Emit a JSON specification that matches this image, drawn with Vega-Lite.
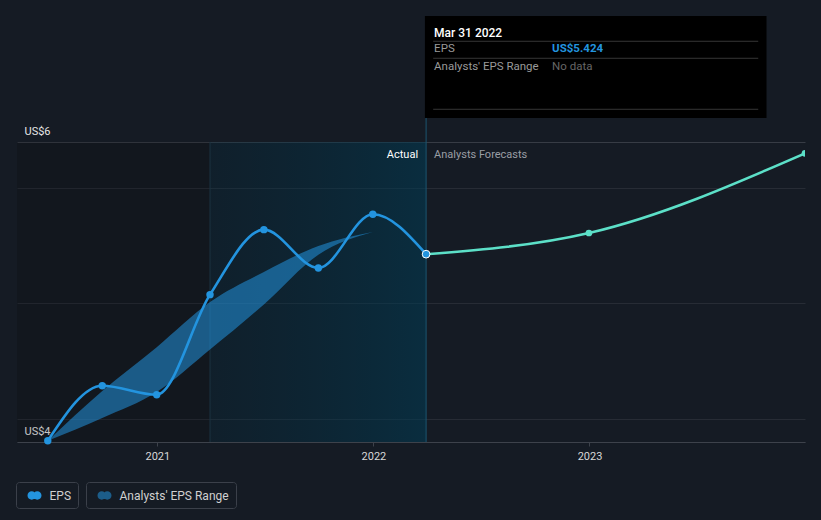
{
  "$schema": "https://vega.github.io/schema/vega-lite/v6.json",
  "width": 788,
  "height": 300,
  "autosize": {"type": "none"},
  "padding": {"left": 17, "top": 142, "right": 16, "bottom": 78},
  "background": "#151b24",
  "config": {"view": {"stroke": null}, "font": "Roboto", "text": {"font": "Roboto"}},
  "datasets": {
    "eps": [
      {"date": "2020-06-30", "eps": 3.811},
      {"date": "2020-09-30", "eps": 4.287},
      {"date": "2020-12-31", "eps": 4.209},
      {"date": "2021-03-31", "eps": 5.074},
      {"date": "2021-06-30", "eps": 5.636},
      {"date": "2021-09-30", "eps": 5.305},
      {"date": "2021-12-31", "eps": 5.769},
      {"date": "2022-03-31", "eps": 5.424}
    ],
    "fc": [
      {"date": "2022-03-31", "eps": 5.424},
      {"date": "2022-12-31", "eps": 5.607},
      {"date": "2023-12-31", "eps": 6.296}
    ],
    "band": [
      {"date": "2020-06-30", "low": 3.811, "high": 3.811},
      {"date": "2020-09-30", "low": 4.008, "high": 4.24},
      {"date": "2020-12-31", "low": 4.232, "high": 4.62},
      {"date": "2021-03-31", "low": 4.6, "high": 5.01},
      {"date": "2021-06-30", "low": 4.99, "high": 5.27},
      {"date": "2021-09-30", "low": 5.42, "high": 5.495},
      {"date": "2021-12-31", "low": 5.616, "high": 5.616}
    ],
    "regions": [
      {"start": "2020-05-09", "end": "2021-03-31", "kind": "past"},
      {"start": "2021-03-31", "end": "2022-03-31", "kind": "recent"}
    ],
    "one": [{}]
  },
  "layer": [
    {
      "data": {"name": "regions"},
      "transform": [{"filter": "datum.kind == 'past'"}],
      "mark": {"type": "rect", "fill": "#000000", "fillOpacity": 0.14},
      "encoding": {
        "x": {"field": "start", "type": "temporal", "title": null},
        "x2": {"field": "end"}
      }
    },
    {
      "data": {"name": "regions"},
      "transform": [{"filter": "datum.kind == 'recent'"}],
      "mark": {
        "type": "rect",
        "fill": {
          "gradient": "linear", "x1": 0, "y1": 0, "x2": 1, "y2": 0,
          "stops": [
            {"offset": 0, "color": "rgba(0,45,65,0.25)"},
            {"offset": 1, "color": "rgba(0,60,85,0.55)"}
          ]
        }
      },
      "encoding": {
        "x": {"field": "start", "type": "temporal", "title": null},
        "x2": {"field": "end"}
      }
    },
    {
      "data": {"name": "regions"},
      "transform": [{"filter": "datum.kind == 'recent'"}],
      "mark": {"type": "rule", "color": "#1a3240", "strokeWidth": 1},
      "encoding": {
        "x": {"field": "start", "type": "temporal", "title": null}
      }
    },
    {
      "data": {"name": "regions"},
      "transform": [{"filter": "datum.kind == 'recent'"}],
      "mark": {"type": "rule", "color": "#1c5470", "strokeWidth": 1},
      "encoding": {
        "x": {"field": "end", "type": "temporal", "title": null},
        "y": {"datum": 6.602, "type": "quantitative"},
        "y2": {"datum": 3.8}
      }
    },
    {
      "data": {"name": "band"},
      "mark": {"type": "area", "interpolate": "monotone", "fillOpacity": 0.55},
      "encoding": {
        "x": {"field": "date", "type": "temporal", "title": null},
        "y": {"field": "high", "type": "quantitative", "title": null},
        "y2": {"field": "low"},
        "fill": {
          "datum": "Analysts' EPS Range", "type": "nominal",
          "scale": {"domain": ["Analysts' EPS Range"], "range": ["#2394df"]},
          "legend": {
            "orient": "none", "legendX": 69, "legendY": 340, "title": null,
            "strokeColor": "#3b404a", "cornerRadius": 3, "padding": 6.5,
            "symbolType": "M -1 0 A 0.6 0.6 0 1 0 0.2 0 A 0.6 0.6 0 1 0 -1 0 Z M -0.2 0 A 0.6 0.6 0 1 0 1 0 A 0.6 0.6 0 1 0 -0.2 0 Z",
            "symbolSize": 196, "symbolOpacity": 0.55, "symbolStrokeWidth": 0,
            "symbolOffset": 5, "labelOffset": 8,
            "labelColor": "#d0d0d0", "labelFontSize": 12, "labelFont": "Roboto"
          }
        }
      }
    },
    {
      "data": {"name": "eps"},
      "mark": {"type": "line", "interpolate": "monotone", "strokeWidth": 2.6},
      "encoding": {
        "x": {
          "field": "date", "type": "temporal", "title": null,
          "scale": {
            "type": "utc",
            "domain": [
              {"year": 2020, "month": 5, "date": 9, "utc": true},
              {"year": 2023, "month": 12, "date": 31, "utc": true}
            ]
          },
          "axis": {
            "title": null,
            "values": [
              {"year": 2021, "month": 1, "date": 1, "utc": true},
              {"year": 2022, "month": 1, "date": 1, "utc": true},
              {"year": 2023, "month": 1, "date": 1, "utc": true}
            ],
            "format": "%Y",
            "grid": false,
            "domainColor": "#3d424b",
            "tickColor": "#3d424b",
            "tickSize": 4,
            "labelColor": "#d8d8d8",
            "labelFontSize": 11,
            "labelFont": "Roboto",
            "labelPadding": 4,
            "labelFlush": false
          }
        },
        "y": {
          "field": "eps", "type": "quantitative", "title": null,
          "scale": {"domain": [3.8, 6.394], "nice": false, "zero": false},
          "axis": {
            "title": null,
            "values": [3.8, 4, 5, 6, 6.394],
            "labelExpr": "datum.value < 3.9 ? 'US$4' : (datum.value > 6.3 ? 'US$6' : '')",
            "domain": false,
            "ticks": false,
            "tickSize": 0,
            "grid": true,
            "gridColor": {"condition": {"test": "datum.value > 6.3", "value": "#373c45"}, "value": "#272c35"},
            "labelAlign": "left",
            "labelPadding": -7,
            "labelBaseline": "alphabetic",
            "labelOffset": -8,
            "labelColor": "#e6e6e6",
            "labelFontSize": 11,
            "labelFont": "Roboto",
            "labelFlush": false,
            "labelOverlap": false,
            "labelBound": false
          }
        },
        "stroke": {
          "datum": "EPS", "type": "nominal",
          "scale": {"domain": ["EPS"], "range": ["#2394df"]},
          "legend": {
            "orient": "none", "legendX": -1, "legendY": 340, "title": null,
            "strokeColor": "#3b404a", "cornerRadius": 3, "padding": 6.5,
            "symbolType": "M -1 0 A 0.6 0.6 0 1 0 0.2 0 A 0.6 0.6 0 1 0 -1 0 Z M -0.2 0 A 0.6 0.6 0 1 0 1 0 A 0.6 0.6 0 1 0 -0.2 0 Z",
            "symbolSize": 196, "symbolFillColor": "#2394df", "symbolStrokeWidth": 0,
            "symbolOffset": 5, "labelOffset": 8,
            "labelColor": "#d0d0d0", "labelFontSize": 12, "labelFont": "Roboto"
          }
        }
      }
    },
    {
      "data": {"name": "eps"},
      "transform": [{"filter": "datum.eps != 5.424"}],
      "mark": {"type": "point", "filled": true, "size": 55, "color": "#2394df", "opacity": 1},
      "encoding": {
        "x": {"field": "date", "type": "temporal", "title": null},
        "y": {"field": "eps", "type": "quantitative", "title": null}
      }
    },
    {
      "data": {"name": "fc"},
      "mark": {"type": "line", "interpolate": "monotone", "strokeWidth": 2.6, "color": "#5ce0c8", "clip": true},
      "encoding": {
        "x": {"field": "date", "type": "temporal", "title": null},
        "y": {"field": "eps", "type": "quantitative", "title": null}
      }
    },
    {
      "data": {"name": "fc"},
      "transform": [{"filter": "datum.eps != 5.424"}],
      "mark": {"type": "point", "filled": true, "size": 45, "color": "#5ce0c8", "opacity": 1, "clip": true},
      "encoding": {
        "x": {"field": "date", "type": "temporal", "title": null},
        "y": {"field": "eps", "type": "quantitative", "title": null}
      }
    },
    {
      "data": {"name": "eps"},
      "transform": [{"filter": "datum.eps == 5.424"}],
      "mark": {"type": "point", "filled": true, "size": 60, "fill": "#2394df", "stroke": "#ffffff", "strokeWidth": 1, "opacity": 1},
      "encoding": {
        "x": {"field": "date", "type": "temporal", "title": null},
        "y": {"field": "eps", "type": "quantitative", "title": null}
      }
    },
    {
      "data": {"name": "one"},
      "mark": {"type": "text", "text": "Actual", "align": "right", "baseline": "middle", "dx": -8, "fontSize": 11, "color": "#ffffff"},
      "encoding": {
        "x": {"datum": {"year": 2022, "month": 3, "date": 31, "utc": true}, "type": "temporal"},
        "y": {"datum": 6.285, "type": "quantitative"}
      }
    },
    {
      "data": {"name": "one"},
      "mark": {"type": "text", "text": "Analysts Forecasts", "align": "left", "baseline": "middle", "dx": 8, "fontSize": 11, "color": "#9a9ea4"},
      "encoding": {
        "x": {"datum": {"year": 2022, "month": 3, "date": 31, "utc": true}, "type": "temporal"},
        "y": {"datum": 6.285, "type": "quantitative"}
      }
    },
    {
      "data": {"name": "one"},
      "mark": {"type": "rect", "fill": "#000000"},
      "encoding": {
        "x": {"datum": {"year": 2022, "month": 3, "date": 29, "utc": true}, "type": "temporal"},
        "x2": {"datum": {"year": 2023, "month": 10, "date": 27, "utc": true}},
        "y": {"datum": 7.484, "type": "quantitative"},
        "y2": {"datum": 6.602}
      }
    },
    {
      "data": {"name": "one"},
      "mark": {"type": "rule", "color": "#363636", "strokeWidth": 1},
      "encoding": {
        "x": {"datum": {"year": 2022, "month": 4, "date": 12, "utc": true}, "type": "temporal"},
        "x2": {"datum": {"year": 2023, "month": 10, "date": 13, "utc": true}},
        "y": {"datum": 7.265, "type": "quantitative"}
      }
    },
    {
      "data": {"name": "one"},
      "mark": {"type": "rule", "color": "#363636", "strokeWidth": 1},
      "encoding": {
        "x": {"datum": {"year": 2022, "month": 4, "date": 12, "utc": true}, "type": "temporal"},
        "x2": {"datum": {"year": 2023, "month": 10, "date": 13, "utc": true}},
        "y": {"datum": 7.118, "type": "quantitative"}
      }
    },
    {
      "data": {"name": "one"},
      "mark": {"type": "rule", "color": "#363636", "strokeWidth": 1},
      "encoding": {
        "x": {"datum": {"year": 2022, "month": 4, "date": 12, "utc": true}, "type": "temporal"},
        "x2": {"datum": {"year": 2023, "month": 10, "date": 13, "utc": true}},
        "y": {"datum": 6.677, "type": "quantitative"}
      }
    },
    {
      "data": {"name": "one"},
      "mark": {"type": "text", "text": "Mar 31 2022", "align": "left", "baseline": "middle", "dx": 8, "fontSize": 12, "fontWeight": 500, "color": "#ffffff"},
      "encoding": {
        "x": {"datum": {"year": 2022, "month": 3, "date": 31, "utc": true}, "type": "temporal"},
        "y": {"datum": 7.338, "type": "quantitative"}
      }
    },
    {
      "data": {"name": "one"},
      "mark": {"type": "text", "text": "EPS", "align": "left", "baseline": "middle", "dx": 8, "fontSize": 11.5, "color": "#9a9a9a"},
      "encoding": {
        "x": {"datum": {"year": 2022, "month": 3, "date": 31, "utc": true}, "type": "temporal"},
        "y": {"datum": 7.195, "type": "quantitative"}
      }
    },
    {
      "data": {"name": "one"},
      "mark": {"type": "text", "text": "US$5.424", "align": "left", "baseline": "middle", "dx": 126, "fontSize": 11.5, "fontWeight": "bold", "color": "#2394df"},
      "encoding": {
        "x": {"datum": {"year": 2022, "month": 3, "date": 31, "utc": true}, "type": "temporal"},
        "y": {"datum": 7.195, "type": "quantitative"}
      }
    },
    {
      "data": {"name": "one"},
      "mark": {"type": "text", "text": "Analysts' EPS Range", "align": "left", "baseline": "middle", "dx": 8, "fontSize": 11.5, "color": "#9a9a9a"},
      "encoding": {
        "x": {"datum": {"year": 2022, "month": 3, "date": 31, "utc": true}, "type": "temporal"},
        "y": {"datum": 7.04, "type": "quantitative"}
      }
    },
    {
      "data": {"name": "one"},
      "mark": {"type": "text", "text": "No data", "align": "left", "baseline": "middle", "dx": 126, "fontSize": 11.5, "color": "#666666"},
      "encoding": {
        "x": {"datum": {"year": 2022, "month": 3, "date": 31, "utc": true}, "type": "temporal"},
        "y": {"datum": 7.04, "type": "quantitative"}
      }
    }
  ]
}
